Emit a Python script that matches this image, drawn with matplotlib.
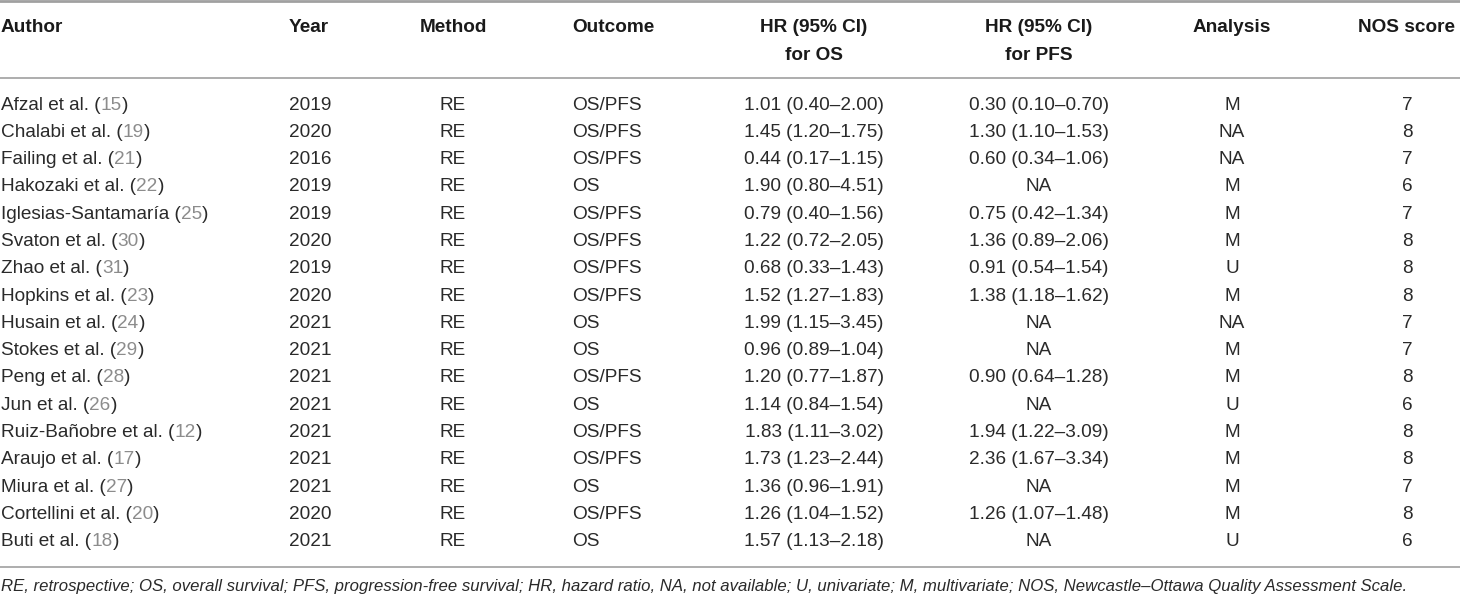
import matplotlib
matplotlib.use('Agg')
import matplotlib.pyplot as plt

# table contents
authors = ['Afzal et al.', 'Chalabi et al.', 'Failing et al.', 'Hakozaki et al.',
           'Iglesias-Santamaría', 'Svaton et al.', 'Zhao et al.', 'Hopkins et al.',
           'Husain et al.', 'Stokes et al.', 'Peng et al.', 'Jun et al.',
           'Ruiz-Bañobre et al.', 'Araujo et al.', 'Miura et al.', 'Cortellini et al.',
           'Buti et al.']
refs = ['15', '19', '21', '22', '25', '30', '31', '23', '24', '29', '28', '26',
        '12', '17', '27', '20', '18']
years = ['2019', '2020', '2016', '2019', '2019', '2020', '2019', '2020', '2021',
         '2021', '2021', '2021', '2021', '2021', '2021', '2020', '2021']
methods = ['RE'] * 17
outcomes = ['OS/PFS', 'OS/PFS', 'OS/PFS', 'OS', 'OS/PFS', 'OS/PFS', 'OS/PFS', 'OS/PFS',
            'OS', 'OS', 'OS/PFS', 'OS', 'OS/PFS', 'OS/PFS', 'OS', 'OS/PFS', 'OS']
hr_os = ['1.01 (0.40–2.00)', '1.45 (1.20–1.75)', '0.44 (0.17–1.15)', '1.90 (0.80–4.51)',
         '0.79 (0.40–1.56)', '1.22 (0.72–2.05)', '0.68 (0.33–1.43)', '1.52 (1.27–1.83)',
         '1.99 (1.15–3.45)', '0.96 (0.89–1.04)', '1.20 (0.77–1.87)', '1.14 (0.84–1.54)',
         '1.83 (1.11–3.02)', '1.73 (1.23–2.44)', '1.36 (0.96–1.91)', '1.26 (1.04–1.52)',
         '1.57 (1.13–2.18)']
hr_pfs = ['0.30 (0.10–0.70)', '1.30 (1.10–1.53)', '0.60 (0.34–1.06)', 'NA',
          '0.75 (0.42–1.34)', '1.36 (0.89–2.06)', '0.91 (0.54–1.54)', '1.38 (1.18–1.62)',
          'NA', 'NA', '0.90 (0.64–1.28)', 'NA', '1.94 (1.22–3.09)', '2.36 (1.67–3.34)',
          'NA', '1.26 (1.07–1.48)', 'NA']
analysis = ['M', 'NA', 'NA', 'M', 'M', 'M', 'U', 'M', 'NA', 'M', 'M', 'U', 'M', 'M',
            'M', 'M', 'U']
nos = ['7', '8', '7', '6', '7', '8', '8', '8', '7', '7', '8', '6', '8', '8', '7', '8', '6']

headers = [('Author', ''), ('Year', ''), ('Method', ''), ('Outcome', ''),
           ('HR (95% CI)', 'for OS'), ('HR (95% CI)', 'for PFS'), ('Analysis', ''),
           ('NOS score', '')]
footnote = ('RE, retrospective; OS, overall survival; PFS, progression-free survival; '
            'HR, hazard ratio, NA, not available; U, univariate; M, multivariate; '
            'NOS, Newcastle–Ottawa Quality Assessment Scale.')

plt.rcParams['font.family'] = ['Liberation Sans', 'DejaVu Sans']
TXT = '#2a2a2a'
REF = '#8c8c8c'
RULE = '#a0a0a0'
FS = 13.7

fig = plt.figure(figsize=(14.6, 5.97), dpi=100)
ax = fig.add_axes([0, 0, 1, 1])
ax.set_xlim(0, 1460)
ax.set_ylim(597, 0)
ax.axis('off')

# column x anchor and alignment
cols = [(1, 'left'), (289, 'left'), (453, 'center'), (572, 'left'),
        (814, 'center'), (1039, 'center'), (1232, 'center'), (1407, 'center')]

for (x, ha), (h1, h2) in zip(cols, headers):
    ax.text(x, 28, h1, ha=ha, va='center', fontsize=FS, fontweight='bold', color='#1a1a1a')
    if h2:
        ax.text(x, 55, h2, ha=ha, va='center', fontsize=FS, fontweight='bold', color='#1a1a1a')

for y, lw in [(1, 2.0), (78, 1.2), (567, 1.2)]:
    ax.axhline(y, color=RULE, lw=lw)

y0, dy = 105, 27.3
for i in range(len(authors)):
    y = y0 + i * dy
    t = ax.text(cols[0][0], y, authors[i] + ' (', ha='left', va='center',
                fontsize=FS, color=TXT)
    r = ax.annotate(refs[i], xy=(1, 0), xycoords=t, ha='left', va='bottom',
                    fontsize=FS, color=REF)
    ax.annotate(')', xy=(1, 0), xycoords=r, ha='left', va='bottom',
                fontsize=FS, color=TXT)
    row = [years[i], methods[i], outcomes[i], hr_os[i], hr_pfs[i], analysis[i], nos[i]]
    for (x, ha), val in zip(cols[1:], row):
        ax.text(x, y, val, ha=ha, va='center', fontsize=FS, color=TXT)

ax.text(1, 587, footnote, ha='left', va='center', fontsize=12.1, style='italic',
        color=TXT)

fig.savefig('out.png', dpi=100)
